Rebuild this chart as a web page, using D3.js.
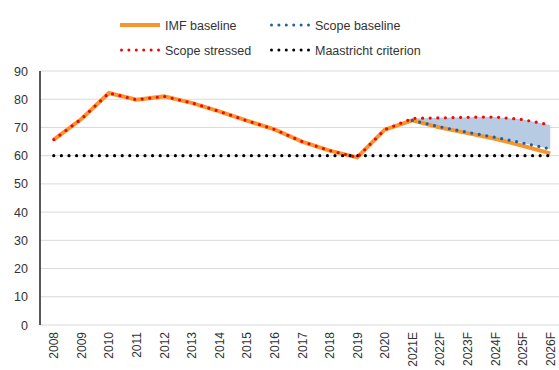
<!DOCTYPE html>
<html>
<head>
<meta charset="utf-8">
<script src="https://cdn.jsdelivr.net/npm/d3@7"></script>
<style>
  body { margin: 0; background: #fff; }
  text { font-family: "Liberation Sans", Arial, sans-serif; }
</style>
</head>
<body>
<svg id="chart" width="559" height="370"></svg>
<script>
// data
var years = ["2008","2009","2010","2011","2012","2013","2014","2015","2016","2017","2018","2019","2020","2021E","2022F","2023F","2024F","2025F","2026F"]
var imfBaseline = [65.7,73.0,82.2,79.8,81.0,78.7,75.7,72.4,69.3,65.0,61.8,59.4,69.2,72.5,70.0,68.0,66.0,63.5,60.8]
var scopeBaseline = [null,null,null,null,null,null,null,null,null,null,null,null,null,72.5,70.2,68.3,66.5,64.5,62.4]
var scopeStressed = [65.7,73.0,82.2,79.8,81.0,78.7,75.7,72.4,69.3,65.0,61.8,59.4,69.2,73.2,73.4,73.6,73.7,72.8,70.9]
var maastricht = years.map(function(){ return 60 })
var yTicks = [0,10,20,30,40,50,60,70,80,90]

var svg = d3.select("#chart")
var plotL = 40, plotR = 564, plotT = 71, plotB = 325

var x = d3.scaleBand().domain(years).range([plotL, plotR])
var y = d3.scaleLinear().domain([0, 90]).range([plotB, plotT])
var cx = function(d, i){ return x(years[i]) + x.bandwidth()/2 }

//? gridlines
svg.append("g").selectAll("line").data(yTicks).enter().append("line")
  .attr("x1", plotL).attr("x2", 559)
  .attr("y1", d => y(d)).attr("y2", d => y(d))
  .attr("stroke", "#d9d9d9").attr("stroke-width", 1)

// y axis labels
svg.append("g").selectAll("text").data(yTicks).enter().append("text")
  .attr("x", 28).attr("y", d => y(d) + 4.5)
  .attr("text-anchor", "end").attr("font-size", 12.5).attr("fill", "#333")
  .text(d => d)

svg.append("line").attr("x1", plotL).attr("x2", plotL).attr("y1", plotT).attr("y2", plotB)
  .attr("stroke", "#222").attr("stroke-width", 1.5)

// x labels rotated
svg.append("g").selectAll("text").data(years).enter().append("text")
  .attr("transform", (d, i) => "translate(" + (cx(d, i) + 4.5) + "," + 332 + ") rotate(-90)")
  .attr("text-anchor", "end").attr("font-size", 12).attr("fill", "#333")
  .text(d => d)

//? shaded band between scope baseline and stressed
var bandIdx = d3.range(13, years.length)
svg.append("path")
  .datum(bandIdx)
  .attr("d", d3.area()
    .x(i => cx(null, i))
    .y0(i => y(scopeBaseline[i]))
    .y1(i => y(scopeStressed[i])))
  .attr("fill", "#b7cbe2")

function line(vals){
  return d3.line()
    .defined(d => d != null)
    .x((d, i) => cx(d, i))
    .y(d => y(d))(vals)
}

svg.append("path").attr("d", line(imfBaseline))
  .attr("fill", "none").attr("stroke", "#f7962d").attr("stroke-width", 4)

svg.append("path").attr("d", line(maastricht))
  .attr("fill", "none").attr("stroke", "#000").attr("stroke-width", 3.2)
  .attr("stroke-linecap", "round").attr("stroke-dasharray", "0,7.6")

svg.append("path").attr("d", line(scopeBaseline))
  .attr("fill", "none").attr("stroke", "#1f5ea8").attr("stroke-width", 3.2)
  .attr("stroke-linecap", "round").attr("stroke-dasharray", "0,7.6")

svg.append("path").attr("d", line(scopeStressed))
  .attr("fill", "none").attr("stroke", "#ff0000").attr("stroke-width", 3.2)
  .attr("stroke-linecap", "round").attr("stroke-dasharray", "0,7.6")

//* legend
var legend = [
  {name: "IMF baseline", color: "#f7962d", solid: true, x: 120, y: 25},
  {name: "Scope baseline", color: "#1f5ea8", solid: false, x: 270, y: 25},
  {name: "Scope stressed", color: "#ff0000", solid: false, x: 120, y: 50},
  {name: "Maastricht criterion", color: "#000", solid: false, x: 270, y: 50}
]
var lg = svg.append("g").selectAll("g").data(legend).enter().append("g")
lg.append("line")
  .attr("x1", d => d.x + (d.solid ? 0 : 1.5)).attr("x2", d => d.x + 40)
  .attr("y1", d => d.y).attr("y2", d => d.y)
  .attr("stroke", d => d.color)
  .attr("stroke-width", d => d.solid ? 4 : 3)
  .attr("stroke-linecap", d => d.solid ? "butt" : "round")
  .attr("stroke-dasharray", d => d.solid ? null : "0,7.4")
lg.append("text")
  .attr("x", d => d.x + 45).attr("y", d => d.y + 4.5)
  .attr("font-size", 12.5).attr("fill", "#333")
  .text(d => d.name)
</script>
</body>
</html>
